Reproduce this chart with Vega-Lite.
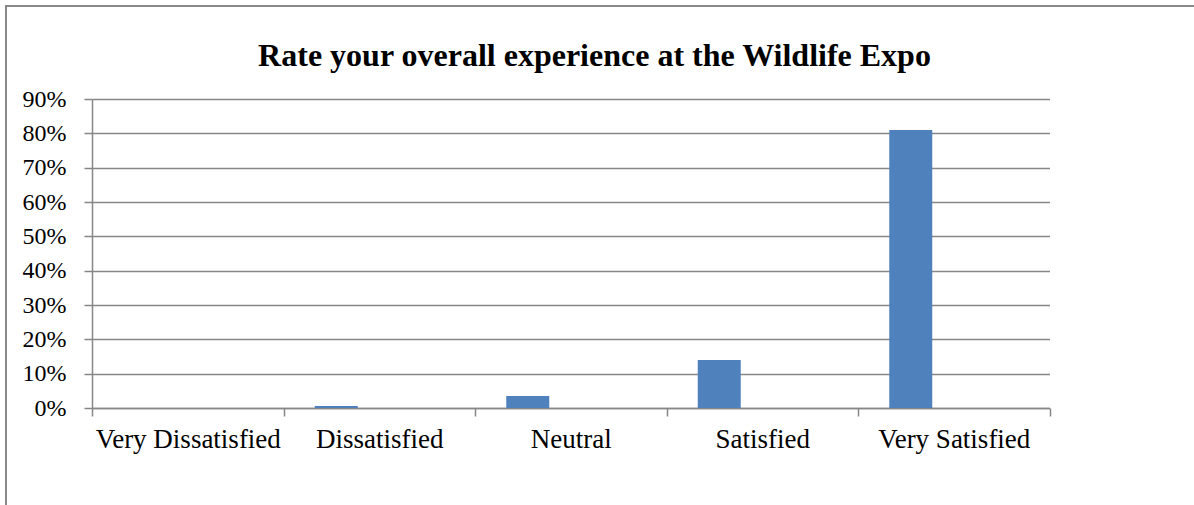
{
  "$schema": "https://vega.github.io/schema/vega-lite/v6.json",
  "autosize": "none",
  "padding": {"left": 6, "top": 6, "right": 0, "bottom": 0},
  "width": 1194,
  "height": 505,
  "background": "white",
  "title": {
    "text": "Rate your overall experience at the Wildlife Expo",
    "font": "Liberation Serif",
    "fontSize": 32,
    "fontWeight": "bold",
    "color": "black",
    "anchor": "middle",
    "frame": "group",
    "baseline": "alphabetic",
    "offset": -92,
    "dx": -8.5
  },
  "data": {
    "values": [
      {"rating": "Very Dissatisfied", "series": "A", "share": 0.0},
      {"rating": "Dissatisfied", "series": "A", "share": 0.006},
      {"rating": "Neutral", "series": "A", "share": 0.035},
      {"rating": "Satisfied", "series": "A", "share": 0.14},
      {"rating": "Very Satisfied", "series": "A", "share": 0.81}
    ]
  },
  "mark": {"type": "bar", "color": "#4F81BD"},
  "encoding": {
    "x": {
      "field": "rating",
      "type": "nominal",
      "sort": ["Very Dissatisfied", "Dissatisfied", "Neutral", "Satisfied", "Very Satisfied"],
      "scale": {"range": [86, 1043.5], "paddingInner": 0, "paddingOuter": 0},
      "axis": {
        "title": null,
        "orient": "bottom",
        "offset": -103,
        "labelAngle": 0,
        "labelFont": "Liberation Serif",
        "labelFontSize": 27,
        "labelColor": "black",
        "labelPadding": 10,
        "labelLimit": 0,
        "labelOverlap": false,
        "tickBand": "extent",
        "tickSize": 8,
        "tickColor": "#878787",
        "tickWidth": 1.5,
        "domainColor": "#878787",
        "domainWidth": 1.5,
        "grid": false
      }
    },
    "xOffset": {
      "field": "series",
      "type": "nominal",
      "scale": {"domain": ["A", "B", "C"], "paddingInner": 0, "paddingOuter": 0.727}
    },
    "y": {
      "field": "share",
      "type": "quantitative",
      "scale": {"domain": [0, 0.9], "range": [402, 93], "nice": false, "zero": true},
      "axis": {
        "title": null,
        "orient": "left",
        "offset": -86,
        "values": [0, 0.1, 0.2, 0.3, 0.4, 0.5, 0.6, 0.7, 0.8, 0.9],
        "format": ".0%",
        "labelFont": "Liberation Serif",
        "labelFontSize": 24,
        "labelColor": "black",
        "labelPadding": 18,
        "tickSize": 8,
        "tickColor": "#878787",
        "tickWidth": 1.5,
        "domainColor": "#878787",
        "domainWidth": 1.5,
        "grid": true,
        "gridColor": "#878787",
        "gridWidth": 1.5
      }
    }
  },
  "config": {
    "view": {"stroke": "#898989", "strokeWidth": 2, "fill": "white"}
  }
}
